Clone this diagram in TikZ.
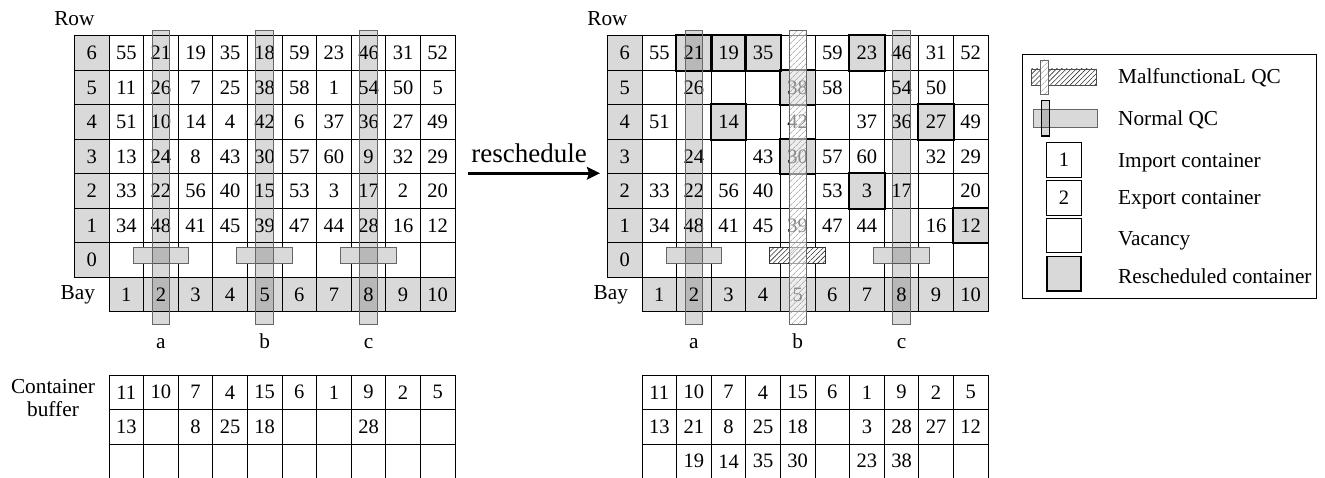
\documentclass[tikz,border=0pt]{standalone}
\usepackage{fontspec}
\setmainfont{Liberation Serif}
\usetikzlibrary{arrows.meta,patterns.meta}
\definecolor{CeldaGris}{HTML}{D9D9D9}
\colorlet{GruaBorde}{black!60}
\newcommand\cifras{\fontsize{20.5}{24}\selectfont}
\newcommand\textos{\fontsize{21.3}{23}\selectfont}

\tikzset{
  celda/.style={draw,line width=1pt,minimum width=34.6pt,minimum height=34.5pt,inner sep=0pt,font=\cifras},
  rotulo/.style={celda,fill=CeldaGris},
  reprog/.style={draw,line width=1.8pt},
  grua/.style={fill=black,fill opacity=.15,draw=GruaBorde,line width=.7pt},
  brazo/.style={fill=CeldaGris,draw=GruaBorde,line width=.7pt},
  fallaFondo/.style={fill=white,fill opacity=.55},
  fallaRayas/.style={pattern={Lines[angle=45,distance=4pt,line width=.5pt]},pattern color=black!45},
  brazoRayas/.style={pattern={Lines[angle=45,distance=3.5pt,line width=.6pt]},pattern color=black!80},
  etiqueta/.style={font=\textos,inner sep=0pt},
}

\begin{document}
\begin{tikzpicture}[x=34.6pt,y=34.5pt]
\useasboundingbox (-3.1503,-4.7913) rectangle (35.1445,9.0348);
\fill[white] (-3.1503,-4.7913) rectangle (35.1445,9.0348);
% parts shared by both yards
\foreach \g/\dx in {L/0,R/15.405}{
  \begin{scope}[shift={(\dx,0)}]
    \foreach \r in {0,...,6} \node[rotulo] (\g-f\r) at (-.5,\r+1.5) {\r};
    \foreach \c in {1,...,10} \node[rotulo] (\g-b\c) at (\c-.5,.5) {\c};
    \foreach \c in {1,...,10} \node[celda] (\g-0-\c) at (\c-.5,1.5) {};
    \node[etiqueta] (\g-row) at (-1,8.484) {Row};
    \node[etiqueta] (\g-bay) at (-.902,.484) {Bay};
    \foreach \q/\x in {a/1.5,b/4.5,c/7.5} \node[etiqueta,anchor=base] (\g-q\q) at (\x,-1.06) {\q};
    \foreach \v [count=\c] in {11,10,7,4,15,6,1,9,2,5} \node[celda] (\g-k1-\c) at (\c-.5,-2.335) {\v};
  \end{scope}
}
\node[etiqueta,align=center] (L-buffer) at (-1.618,-2.501) {Container\\buffer};

% yard before rescheduling
\foreach \r/\fila in {6/{55,21,19,35,18,59,23,46,31,52},5/{11,26,7,25,38,58,1,54,50,5},4/{51,10,14,4,42,6,37,36,27,49},3/{13,24,8,43,30,57,60,9,32,29},2/{33,22,56,40,15,53,3,17,2,20},1/{34,48,41,45,39,47,44,28,16,12}}{
  \foreach \v [count=\c] in \fila {\node[celda] (L-\r-\c) at (\c-.5,\r+1.5) {\v};}
}
\foreach \v [count=\c] in {13,{},8,25,18,{},{},28,{},{}} \node[celda] (L-k2-\c) at (\c-.5,-3.335) {\v};
\foreach \c in {1,...,10} \node[celda] (L-k3-\c) at (\c-.5,-4.335) {};
\foreach \x in {1.5,4.5,7.5}{
  \draw[brazo] (\x-.805,1.412) rectangle (\x+.805,1.867);
  \draw[grua] (\x-.256,-.357) rectangle (\x+.256,8.165);
}

% arrow
\coordinate (flechaIni) at (10.384,4.012);
\coordinate (flechaFin) at (14.191,4.012);
\draw[-{Stealth[length=13pt,width=12.5pt,inset=2pt]},line width=2.7pt] (flechaIni) -- (flechaFin);
\node[font=\fontsize{27}{30}\selectfont,anchor=base,inner sep=0pt] (reprogramar) at (12.139,4.33) {reschedule};

% yard after rescheduling
\begin{scope}[shift={(15.405,0)}]
  \foreach \c/\r in {2/6,3/6,4/6,7/6,5/5,3/4,9/4,5/3,7/2,10/1} \fill[CeldaGris] (\c-1,\r+1) rectangle (\c,\r+2);
  \foreach \r/\fila in {6/{55,21,19,35,{},59,23,46,31,52},5/{{},26,{},{},38,58,{},54,50,{}},4/{51,{},14,{},42,{},37,36,27,49},3/{{},24,{},43,30,57,60,{},32,29},2/{33,22,56,40,{},53,3,17,{},20},1/{34,48,41,45,39,47,44,{},16,12}}{
    \foreach \v [count=\c] in \fila {\node[celda] (R-\r-\c) at (\c-.5,\r+1.5) {\v};}
  }
  \foreach \c/\r in {2/6,3/6,4/6,7/6,5/5,3/4,9/4,5/3,7/2,10/1} \draw[reprog] (R-\r-\c.south west) rectangle (R-\r-\c.north east);
  \foreach \v [count=\c] in {13,21,8,25,18,{},3,28,27,12} \node[celda] (R-k2-\c) at (\c-.5,-3.335) {\v};
  \foreach \v [count=\c] in {{},19,14,35,30,{},23,38,{},{}} \node[celda] (R-k3-\c) at (\c-.5,-4.335) {\v};
  \foreach \x in {1.5,7.5}{
    \draw[brazo] (\x-.805,1.412) rectangle (\x+.805,1.867);
    \draw[grua] (\x-.256,-.357) rectangle (\x+.256,8.165);
  }
  \fill[white] (4.5-.805,1.412) rectangle (4.5+.805,1.867);
  \path[brazoRayas] (4.5-.805,1.412) rectangle (4.5+.805,1.867);
  \draw[black!80,line width=.8pt] (4.5-.805,1.412) rectangle (4.5+.805,1.867);
  \fill[fallaFondo] (4.5-.256,-.357) rectangle (4.5+.256,8.165);
  \path[fallaRayas] (4.5-.256,-.357) rectangle (4.5+.256,8.165);
  \draw[GruaBorde,line width=.7pt] (4.5-.256,-.357) rectangle (4.5+.256,8.165);
\end{scope}

% legend
\draw[line width=1pt] (26.396,.388) rectangle (34.884,7.441);
\fill[white] (26.668,6.571) rectangle (28.526,7.035);
\path[brazoRayas] (26.668,6.571) rectangle (28.526,7.035);
\draw[black!70,line width=.7pt] (26.668,6.571) rectangle (28.526,7.035);
\fill[white] (26.928,6.310) rectangle (27.147,7.296);
\path[fallaRayas] (26.928,6.310) rectangle (27.147,7.296);
\draw[GruaBorde,line width=.7pt] (26.928,6.310) rectangle (27.147,7.296);
\draw[brazo] (26.714,5.345) rectangle (28.564,5.867);
\draw[grua,draw=black,line width=1.5pt] (26.957,5.093) rectangle (27.176,6.116);
\node[celda] (ley-imp) at (27.6,4.397) {1};
\node[celda] (ley-exp) at (27.6,3.300) {2};
\node[celda] (ley-vac) at (27.6,2.209) {};
\node[celda,fill=CeldaGris,line width=1.8pt] (ley-rep) at (27.6,1.101) {};
\node[etiqueta,anchor=base west] (txt-falla) at (29.16,6.62) {MalfunctionaL QC};
\node[etiqueta,anchor=base west] (txt-normal) at (29.16,5.383) {Normal QC};
\node[etiqueta,anchor=base west] (txt-imp) at (29.16,4.186) {Import container};
\node[etiqueta,anchor=base west] (txt-exp) at (29.16,3.093) {Export container};
\node[etiqueta,anchor=base west] (txt-vac) at (29.16,1.933) {Vacancy};
\node[etiqueta,anchor=base west] (txt-rep) at (29.16,.823) {Rescheduled container};
\end{tikzpicture}
\end{document}
